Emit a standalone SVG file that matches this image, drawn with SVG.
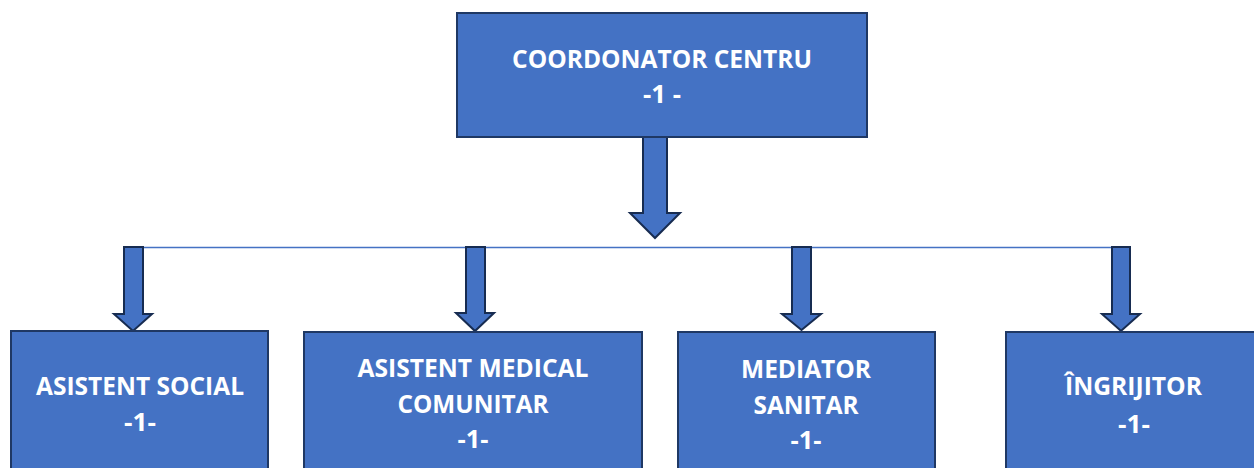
<svg xmlns="http://www.w3.org/2000/svg" width="1254" height="468" viewBox="0 0 1254 468">
<style>
.box{fill:#4472C4;stroke:#1F3864;stroke-width:2}
.arr{fill:#4472C4;stroke:#172C51;stroke-width:2;stroke-linejoin:miter}
.t{font-family:"Open Sans","Liberation Sans",sans-serif;font-weight:700;font-size:25px;fill:#FFFFFF;text-anchor:middle}
.ln{stroke:#4472C4;stroke-width:1.3;fill:none}
</style>
<rect width="1254" height="468" fill="#FFFFFF"/>
<g id="connectors">
<line class="ln" x1="143" y1="247.5" x2="1112" y2="247.5"/>
<polygon class="arr" points="643,137 667,137 667,213 680,213 655,238 630,213 643,213"/>
<polygon class="arr" points="124,247 143,247 143,314 152,314 133,331 114,314 124,314"/>
<polygon class="arr" points="466,247 485,247 485,313 494,313 475,331 456,313 466,313"/>
<polygon class="arr" points="792,247 811,247 811,314 821,314 801.5,330 782,314 792,314"/>
<polygon class="arr" points="1112,247 1130,247 1130,314 1140,314 1121,331 1102,314 1112,314"/>
</g>
<g id="coordonator">
<rect class="box" x="457" y="13" width="410" height="124"/>
<text class="t" x="662" y="68" textLength="300" lengthAdjust="spacingAndGlyphs">COORDONATOR CENTRU</text>
<text class="t" x="662" y="103" textLength="38" lengthAdjust="spacingAndGlyphs">-1 -</text>
</g>
<g id="asistent-social">
<rect class="box" x="11" y="331" width="257" height="150"/>
<text class="t" x="140" y="395" textLength="208" lengthAdjust="spacingAndGlyphs">ASISTENT SOCIAL</text>
<text class="t" x="140" y="431" textLength="32" lengthAdjust="spacingAndGlyphs">-1-</text>
</g>
<g id="asistent-medical">
<rect class="box" x="304" y="332" width="338" height="150"/>
<text class="t" x="473" y="377" textLength="231" lengthAdjust="spacingAndGlyphs">ASISTENT MEDICAL</text>
<text class="t" x="473" y="413" textLength="151" lengthAdjust="spacingAndGlyphs">COMUNITAR</text>
<text class="t" x="473" y="448" textLength="31" lengthAdjust="spacingAndGlyphs">-1-</text>
</g>
<g id="mediator">
<rect class="box" x="678" y="332" width="257" height="150"/>
<text class="t" x="806" y="378" textLength="130" lengthAdjust="spacingAndGlyphs">MEDIATOR</text>
<text class="t" x="806" y="414" textLength="105" lengthAdjust="spacingAndGlyphs">SANITAR</text>
<text class="t" x="806" y="449" textLength="31" lengthAdjust="spacingAndGlyphs">-1-</text>
</g>
<g id="ingrijitor">
<rect class="box" x="1006" y="332" width="260" height="150"/>
<text class="t" x="1133.5" y="395" textLength="137" lengthAdjust="spacingAndGlyphs">ÎNGRIJITOR</text>
<text class="t" x="1134" y="433" textLength="32" lengthAdjust="spacingAndGlyphs">-1-</text>
</g>
</svg>
